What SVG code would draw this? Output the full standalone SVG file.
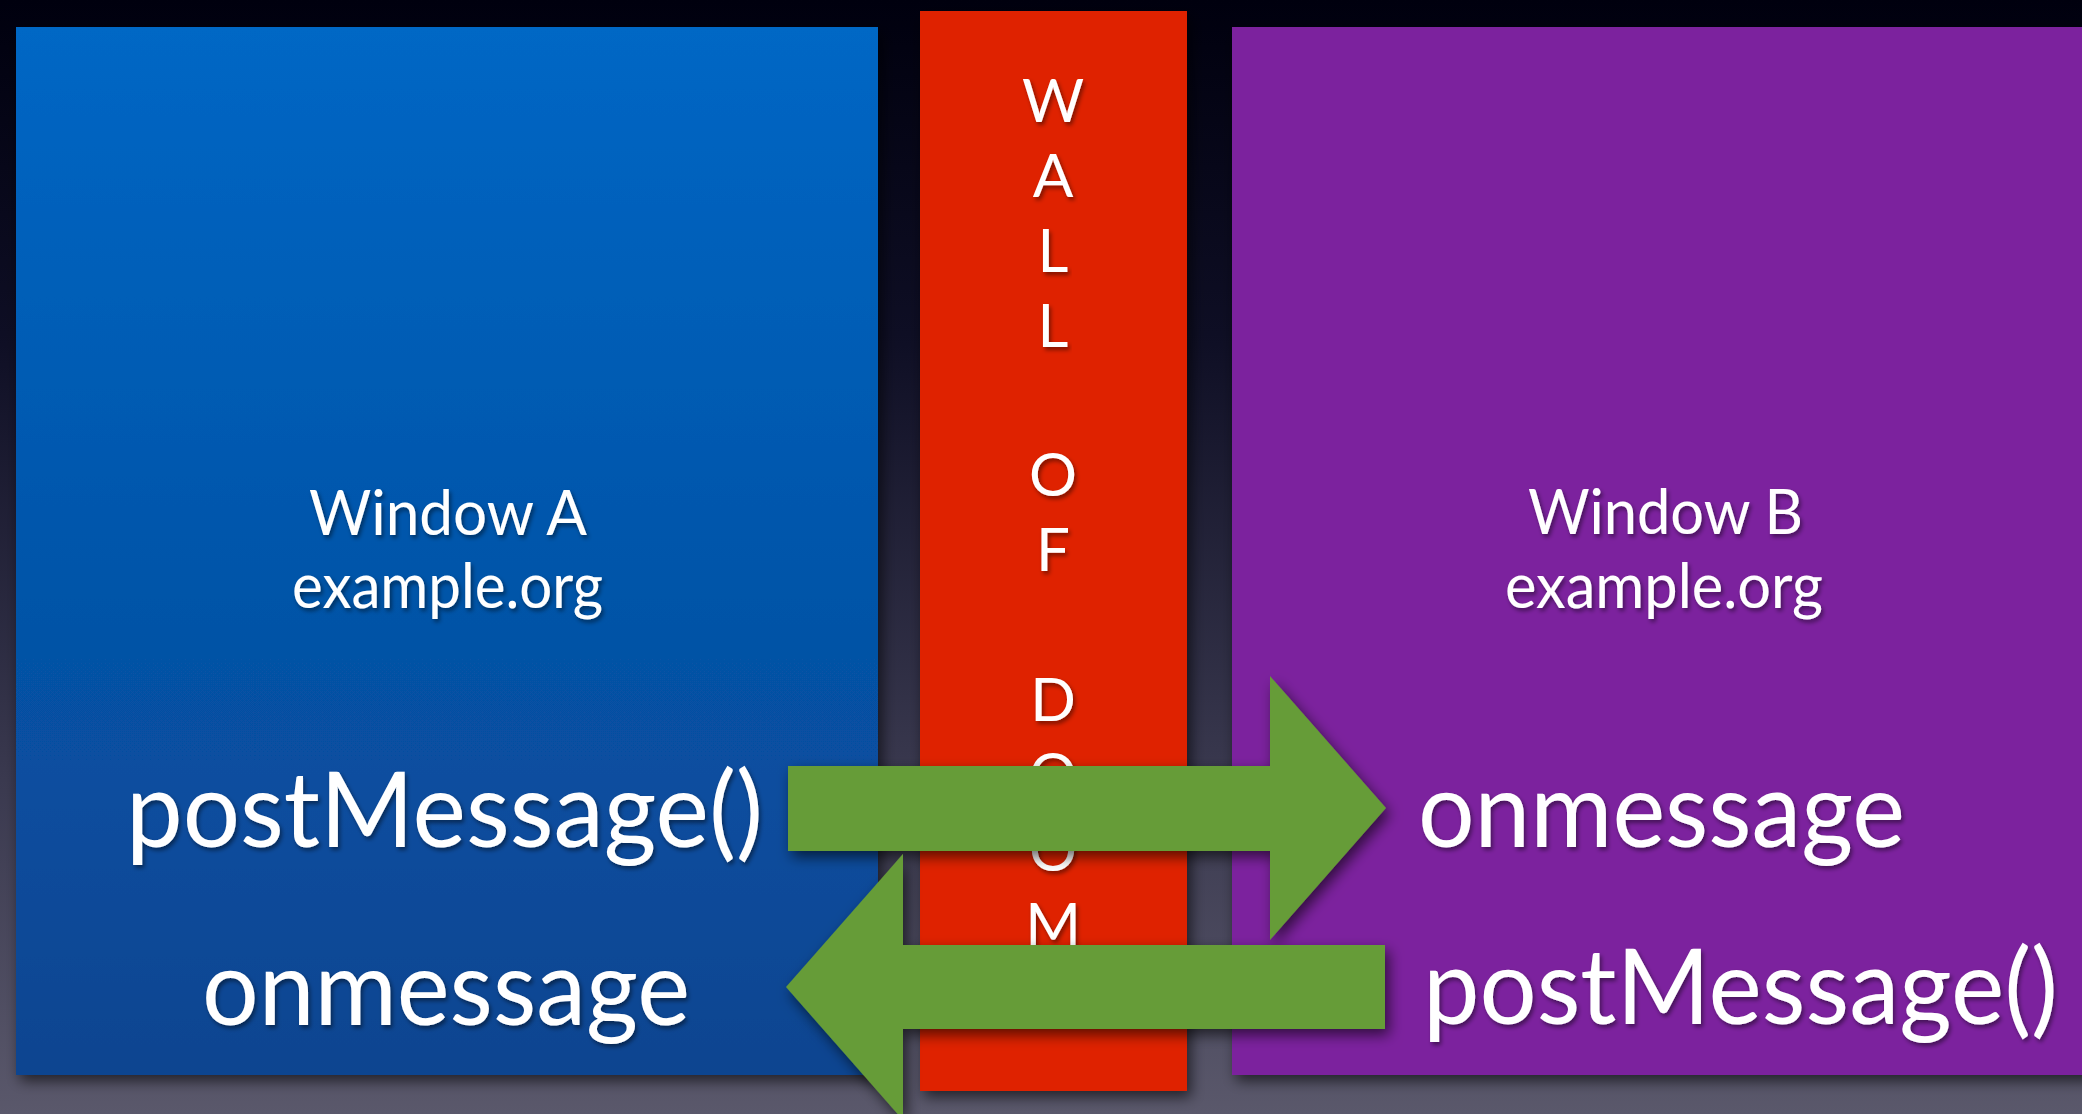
<svg xmlns="http://www.w3.org/2000/svg" width="2082" height="1114" viewBox="0 0 2082 1114">
<defs>
<linearGradient id="bg" x1="0" y1="0" x2="0" y2="1">
<stop offset="0" stop-color="#00000e"/>
<stop offset="0.3" stop-color="#0e0e24"/>
<stop offset="0.7" stop-color="#3a394f"/>
<stop offset="1" stop-color="#5a586b"/>
</linearGradient>
<linearGradient id="blue" x1="0" y1="0" x2="0" y2="1">
<stop offset="0" stop-color="#0067c5"/>
<stop offset="1" stop-color="#0a4490"/>
</linearGradient>
<filter id="shadow" x="-10%" y="-10%" width="130%" height="130%">
<feDropShadow dx="4" dy="6" stdDeviation="7" flood-color="#000" flood-opacity="0.6"/>
</filter>
<filter id="tshadow" x="-10%" y="-20%" width="120%" height="150%">
<feDropShadow dx="2" dy="3" stdDeviation="2" flood-color="#000" flood-opacity="0.45"/>
</filter>
<style>
.t{font-family:Lato,"Open Sans","Liberation Sans",sans-serif;fill:#fff;filter:url(#tshadow)}
.big{font-size:104px}
.mid{font-size:61px}
.wall{font-size:60px;text-anchor:middle}
</style>
</defs>
<rect x="0" y="0" width="2082" height="1114" fill="url(#bg)"/>
<g id="node-window-a">
<rect x="16" y="27" width="862" height="1048" fill="url(#blue)" filter="url(#shadow)"/>
<text class="t mid" x="309" y="535" textLength="278" lengthAdjust="spacingAndGlyphs">Window A</text>
<text class="t mid" x="292" y="608" textLength="311" lengthAdjust="spacingAndGlyphs">example.org</text>
<text class="t big" x="126" y="847" textLength="637" lengthAdjust="spacingAndGlyphs">postMessage()</text>
<text class="t big" x="202" y="1025" textLength="488" lengthAdjust="spacingAndGlyphs">onmessage</text>
</g>
<g id="node-window-b">
<rect x="1232" y="27" width="880" height="1048" fill="#7b209e" filter="url(#shadow)"/>
<text class="t mid" x="1528" y="534" textLength="275" lengthAdjust="spacingAndGlyphs">Window B</text>
<text class="t mid" x="1505" y="608" textLength="318" lengthAdjust="spacingAndGlyphs">example.org</text>
<text class="t big" x="1418" y="847" textLength="487" lengthAdjust="spacingAndGlyphs">onmessage</text>
<text class="t big" x="1423" y="1024" textLength="635" lengthAdjust="spacingAndGlyphs">postMessage()</text>
</g>
<g id="node-wall">
<rect x="920" y="11" width="267" height="1080" fill="#df2300" filter="url(#shadow)"/>
<text class="t wall" x="1053" y="122">W</text>
<text class="t wall" x="1053" y="197">A</text>
<text class="t wall" x="1053" y="272">L</text>
<text class="t wall" x="1053" y="347">L</text>
<text class="t wall" x="1053" y="496">O</text>
<text class="t wall" x="1053" y="571">F</text>
<text class="t wall" x="1053" y="721">D</text>
<text class="t wall" x="1053" y="796">O</text>
<text class="t wall" x="1053" y="871">O</text>
<text class="t wall" x="1053" y="946">M</text>
</g>
<g id="connectors" fill="#669c37" filter="url(#shadow)">
<polygon id="arrow-a-to-b" points="788,766 1270,766 1270,676 1386,808 1270,940 1270,851 788,851"/>
<polygon id="arrow-b-to-a" points="1385,945 903,945 903,854 786,987 903,1120 903,1029 1385,1029"/>
</g>
</svg>
